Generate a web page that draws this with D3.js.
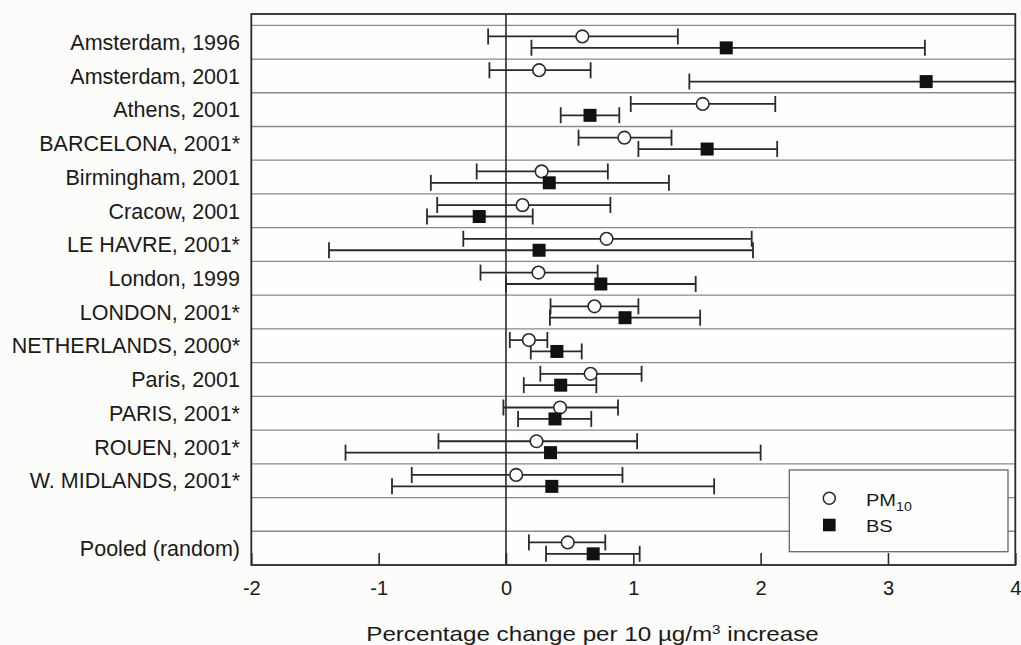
<!DOCTYPE html>
<html>
<head>
<meta charset="utf-8">
<script src="https://cdn.jsdelivr.net/npm/d3@7"></script>
<style>
body { margin: 0; background: #fcfcfa; }
text { font-family: "Liberation Sans", Arial, sans-serif; fill: #1a1a1a; }
</style>
</head>
<body>
<div id="container"></div>
<script>
// studies, top to bottom ("" = blank row)
var studies = ["Amsterdam, 1996", "Amsterdam, 2001", "Athens, 2001", "BARCELONA, 2001*",
	"Birmingham, 2001", "Cracow, 2001", "LE HAVRE, 2001*", "London, 1999", "LONDON, 2001*",
	"NETHERLANDS, 2000*", "Paris, 2001", "PARIS, 2001*", "ROUEN, 2001*", "W. MIDLANDS, 2001*",
	"", "Pooled (random)"];

// PM10 estimate with lower / upper limits
var pm10 = [0.60, 0.26, 1.545, 0.93, 0.28, 0.13, 0.79, 0.255, 0.695, 0.18, 0.665, 0.425, 0.24, 0.08, null, 0.485];
var pm10_lo = [-0.14, -0.13, 0.98, 0.57, -0.23, -0.54, -0.335, -0.20, 0.35, 0.03, 0.27, -0.02, -0.53, -0.74, null, 0.18];
var pm10_hi = [1.35, 0.665, 2.115, 1.30, 0.80, 0.82, 1.93, 0.72, 1.04, 0.325, 1.065, 0.88, 1.03, 0.915, null, 0.78];

// BS estimate with lower / upper limits
var bs = [1.73, 3.30, 0.66, 1.58, 0.34, -0.21, 0.26, 0.745, 0.935, 0.40, 0.43, 0.385, 0.35, 0.36, null, 0.685];
var bs_lo = [0.20, 1.44, 0.43, 1.04, -0.59, -0.62, -1.39, 0.0, 0.345, 0.195, 0.14, 0.095, -1.26, -0.895, null, 0.315];
var bs_hi = [3.29, 5.2, 0.89, 2.13, 1.28, 0.21, 1.94, 1.49, 1.525, 0.595, 0.71, 0.67, 2.0, 1.635, null, 1.05];

var x_ticks = [-2, -1, 0, 1, 2, 3, 4];

var p_left = 251.3, p_right = 1015.3, p_top = 14, p_bottom = 565;

var svg = d3.select("#container").append("svg")
	.attr("width", 1021)
	.attr("height", 645);

var x = d3.scaleLinear().domain([-2, 4]).range([p_left, p_right]);
var y = d3.scaleLinear().domain([-0.335, 16]).range([p_top, p_bottom]); // row index, row i spans [i, i+1]

svg.append("defs").append("clipPath").attr("id", "plot")
	.append("rect")
		.attr("x", p_left).attr("y", p_top)
		.attr("width", p_right - p_left).attr("height", p_bottom - p_top);

// plot background
svg.append("rect")
	.attr("x", p_left).attr("y", p_top)
	.attr("width", p_right - p_left).attr("height", p_bottom - p_top)
	.attr("fill", "#fefefd");

// horizontal row lines
svg.selectAll("line.grid")
	.data(d3.range(0, 16))
	.enter()
	.append("line")
		.attr("class", "grid")
		.attr("x1", p_left).attr("x2", p_right)
		.attr("y1", (d) => y(d)).attr("y2", (d) => y(d))
		.attr("stroke", "#8a8a8a")
		.attr("stroke-width", 1.3);

// zero line
svg.append("line")
	.attr("x1", x(0)).attr("x2", x(0))
	.attr("y1", p_top).attr("y2", p_bottom)
	.attr("stroke", "#2a2a2a")
	.attr("stroke-width", 1.6);

// x axis: inward ticks, labels below
var axis = svg.append("g")
	.attr("transform", "translate(0," + p_bottom + ")")
	.call(d3.axisBottom(x).tickValues(x_ticks).tickFormat(d3.format("d"))
		.tickSizeInner(-12).tickSizeOuter(0).tickPadding(15.8));
axis.select(".domain").remove();
axis.selectAll(".tick line").attr("stroke", "#2a2a2a").attr("stroke-width", 1.6);
axis.selectAll(".tick text")
	.style("font-family", "'Liberation Sans', Arial, sans-serif")
	.style("font-size", "20px")
	.attr("fill", "#1a1a1a")
	.text((d) => d < 0 ? "-" + Math.abs(d) : d);

// axis title (the original lettering is drawn wider than Arial)
var title = svg.append("text")
	.attr("x", 0)
	.attr("y", 0)
	.attr("text-anchor", "middle")
	.attr("transform", "translate(592.5,640.5) scale(1.18,1)")
	.style("font-size", "20.5px");
title.append("tspan").text("Percentage change per 10 µg/m");
title.append("tspan").attr("dy", -7).style("font-size", "13px").text("3");
title.append("tspan").attr("dy", 7).text(" increase");

// study labels
svg.selectAll("text.study")
	.data(studies)
	.enter()
	.append("text")
		.attr("class", "study")
		.attr("x", 240)
		.attr("y", (d, i) => y(i + 0.5))
		.attr("dy", "0.36em")
		.attr("text-anchor", "end")
		.style("font-size", "21.5px")
		.text((d) => d);

// error bars and markers
var rows = studies.map((d, i) => ({i: i, pm: pm10[i], pm_lo: pm10_lo[i], pm_hi: pm10_hi[i],
	bs: bs[i], bs_lo: bs_lo[i], bs_hi: bs_hi[i]})).filter((d) => d.pm !== null);

var marks = svg.append("g").attr("clip-path", "url(#plot)");
var cap = 8;

function bars(key, off)
{// draw one series of error bars
	var g = marks.append("g")
		.attr("stroke", "#2a2a2a")
		.attr("stroke-width", 1.8);
	g.selectAll("line.bar").data(rows).enter().append("line")
		.attr("x1", (d) => x(d[key + "_lo"])).attr("x2", (d) => x(d[key + "_hi"]))
		.attr("y1", (d) => y(d.i + 0.5) + off).attr("y2", (d) => y(d.i + 0.5) + off);
	g.selectAll("line.lo").data(rows).enter().append("line")
		.attr("x1", (d) => x(d[key + "_lo"])).attr("x2", (d) => x(d[key + "_lo"]))
		.attr("y1", (d) => y(d.i + 0.5) + off - cap).attr("y2", (d) => y(d.i + 0.5) + off + cap);
	g.selectAll("line.hi").data(rows).enter().append("line")
		.attr("x1", (d) => x(d[key + "_hi"])).attr("x2", (d) => x(d[key + "_hi"]))
		.attr("y1", (d) => y(d.i + 0.5) + off - cap).attr("y2", (d) => y(d.i + 0.5) + off + cap);
}

bars("pm", -5.7);
bars("bs", 5.7);

marks.selectAll("circle.pm")
	.data(rows)
	.enter()
	.append("circle")
		.attr("class", "pm")
		.attr("cx", (d) => x(d.pm))
		.attr("cy", (d) => y(d.i + 0.5) - 5.7)
		.attr("r", 6.3)
		.attr("fill", "#ffffff")
		.attr("stroke", "#2a2a2a")
		.attr("stroke-width", 1.6);

marks.selectAll("rect.bs")
	.data(rows)
	.enter()
	.append("rect")
		.attr("class", "bs")
		.attr("x", (d) => x(d.bs) - 6.5)
		.attr("y", (d) => y(d.i + 0.5) + 5.7 - 6.5)
		.attr("width", 13)
		.attr("height", 13)
		.attr("fill", "#111111");

// legend
var legend = svg.append("g");
legend.append("rect")
	.attr("x", 789.3).attr("y", 470)
	.attr("width", 218.7).attr("height", 81.7)
	.attr("fill", "#fefefd")
	.attr("stroke", "#666")
	.attr("stroke-width", 1.3);
legend.append("circle")
	.attr("cx", 829.3).attr("cy", 498.3).attr("r", 6)
	.attr("fill", "#fff").attr("stroke", "#2a2a2a").attr("stroke-width", 1.5);
legend.append("rect")
	.attr("x", 823).attr("y", 518.7).attr("width", 12.6).attr("height", 12.6)
	.attr("fill", "#111");
var pmlab = legend.append("text")
	.attr("transform", "translate(866,505.5) scale(1.18,1)")
	.style("font-size", "17px");
pmlab.append("tspan").text("PM");
pmlab.append("tspan").attr("dy", 5.5).style("font-size", "12px").text("10");
legend.append("text")
	.attr("transform", "translate(866,531.5) scale(1.18,1)")
	.style("font-size", "17px").text("BS");

// frame
svg.append("rect")
	.attr("x", p_left).attr("y", p_top)
	.attr("width", p_right - p_left).attr("height", p_bottom - p_top)
	.attr("fill", "none")
	.attr("stroke", "#2a2a2a")
	.attr("stroke-width", 1.8);
</script>
</body>
</html>
